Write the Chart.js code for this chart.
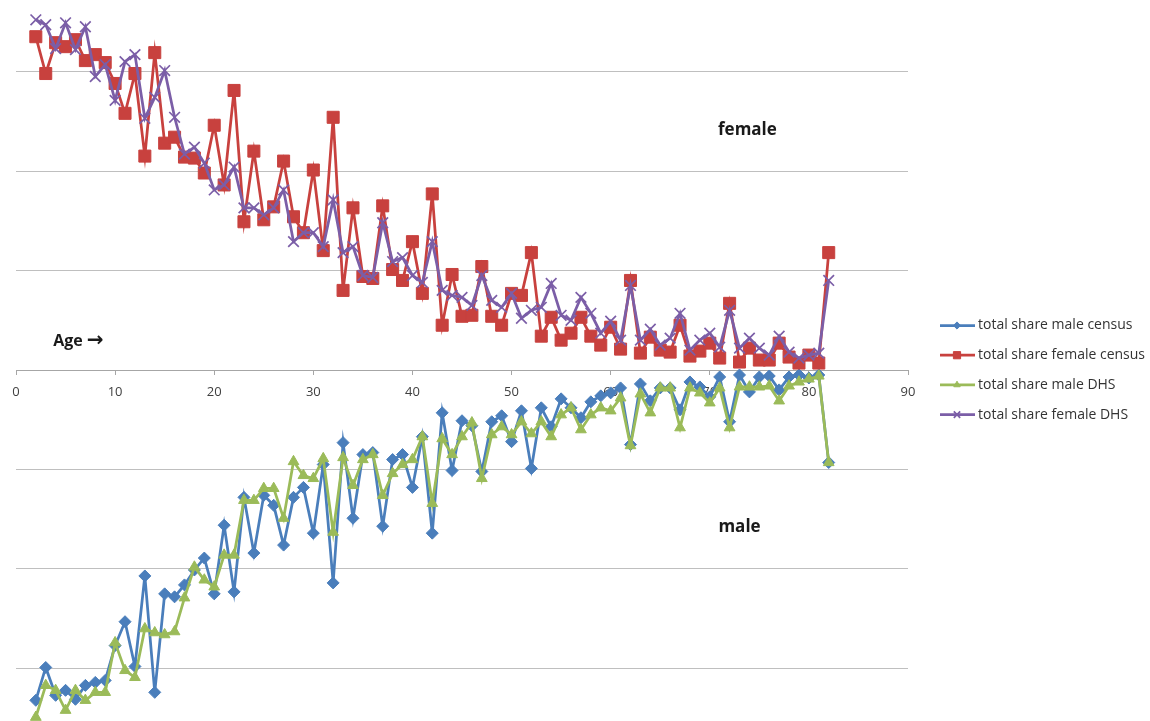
<!DOCTYPE html>
<html>
<head>
<meta charset="utf-8">
<title>Age structure: census vs DHS</title>
<script src="https://cdn.jsdelivr.net/npm/chart.js@4.4.1/dist/chart.umd.min.js"></script>
<style>
  html, body { margin: 0; padding: 0; background: #fff; }
  #wrap { width: 1150px; height: 721px; position: relative; }
</style>
</head>
<body>
<div id="wrap"><canvas id="ageChart"></canvas></div>
<script>
// ages on the x axis
const ages = [2, 3, 4, 5, 6, 7, 8, 9, 10, 11, 12, 13, 14, 15, 16, 17, 18, 19, 20, 21,
  22, 23, 24, 25, 26, 27, 28, 29, 30, 31, 32, 33, 34, 35, 36, 37, 38, 39, 40, 41,
  42, 43, 44, 45, 46, 47, 48, 49, 50, 51, 52, 53, 54, 55, 56, 57, 58, 59, 60, 61,
  62, 63, 64, 65, 66, 67, 68, 69, 70, 71, 72, 73, 74, 75, 76, 77, 78, 79, 80, 81, 82];

// share of total population (%), males plotted negative
const maleCensus = [-3.32, -2.99, -3.27, -3.22, -3.31, -3.17, -3.14, -3.12, -2.77, -2.53,
  -2.98, -2.07, -3.24, -2.25, -2.28, -2.16, -2.01, -1.89, -2.25, -1.56,
  -2.23, -1.28, -1.84, -1.26, -1.36, -1.76, -1.28, -1.18, -1.64, -0.95,
  -2.14, -0.73, -1.49, -0.85, -0.83, -1.57, -0.90, -0.85, -1.18, -0.67,
  -1.64, -0.43, -1.01, -0.51, -0.56, -1.02, -0.52, -0.46, -0.72, -0.41,
  -0.99, -0.38, -0.57, -0.29, -0.38, -0.48, -0.32, -0.26, -0.23, -0.18,
  -0.75, -0.14, -0.31, -0.18, -0.18, -0.40, -0.12, -0.17, -0.27, -0.07,
  -0.52, -0.05, -0.22, -0.07, -0.06, -0.20, -0.07, -0.05, -0.08, -0.05, -0.93];

const femaleCensus = [3.35, 2.98, 3.29, 3.25, 3.32, 3.11, 3.17, 3.09, 2.88, 2.58,
  2.98, 2.15, 3.19, 2.28, 2.34, 2.14, 2.13, 1.98, 2.46, 1.86,
  2.81, 1.49, 2.20, 1.51, 1.64, 2.10, 1.54, 1.38, 2.01, 1.20,
  2.54, 0.80, 1.63, 0.94, 0.92, 1.65, 1.01, 0.90, 1.29, 0.77,
  1.77, 0.45, 0.96, 0.54, 0.55, 1.04, 0.54, 0.45, 0.77, 0.75,
  1.18, 0.34, 0.53, 0.30, 0.37, 0.53, 0.34, 0.25, 0.43, 0.21,
  0.90, 0.17, 0.33, 0.20, 0.18, 0.45, 0.14, 0.19, 0.27, 0.12,
  0.67, 0.08, 0.22, 0.10, 0.10, 0.27, 0.13, 0.07, 0.15, 0.07, 1.18];

const maleDHS = [-3.49, -3.17, -3.22, -3.42, -3.22, -3.32, -3.24, -3.24, -2.74, -3.02,
  -3.09, -2.60, -2.64, -2.66, -2.63, -2.29, -1.98, -2.11, -2.18, -1.86,
  -1.86, -1.31, -1.31, -1.19, -1.19, -1.49, -0.92, -1.06, -1.09, -0.89,
  -1.63, -0.88, -1.16, -0.90, -0.85, -1.26, -1.04, -0.95, -0.90, -0.67,
  -1.34, -0.69, -0.85, -0.67, -0.53, -1.09, -0.65, -0.57, -0.65, -0.52,
  -0.64, -0.52, -0.67, -0.45, -0.38, -0.60, -0.45, -0.38, -0.41, -0.28,
  -0.76, -0.24, -0.43, -0.18, -0.18, -0.58, -0.18, -0.23, -0.33, -0.18,
  -0.58, -0.17, -0.17, -0.17, -0.16, -0.31, -0.16, -0.12, -0.09, -0.06, -0.93];

const femaleDHS = [3.52, 3.47, 3.23, 3.49, 3.22, 3.45, 2.95, 3.07, 2.71, 3.10,
  3.17, 2.53, 2.74, 3.01, 2.54, 2.17, 2.24, 2.08, 1.81, 1.86,
  2.04, 1.63, 1.63, 1.56, 1.63, 1.81, 1.29, 1.38, 1.38, 1.24,
  1.71, 1.18, 1.24, 0.95, 0.93, 1.48, 1.09, 1.13, 0.95, 0.88,
  1.29, 0.80, 0.75, 0.73, 0.65, 0.95, 0.70, 0.63, 0.77, 0.52,
  0.60, 0.63, 0.87, 0.55, 0.50, 0.73, 0.57, 0.37, 0.49, 0.30,
  0.85, 0.30, 0.41, 0.25, 0.32, 0.57, 0.20, 0.30, 0.37, 0.23,
  0.60, 0.22, 0.32, 0.22, 0.15, 0.34, 0.18, 0.12, 0.15, 0.17, 0.90];

const xTicks = [0, 10, 20, 30, 40, 50, 60, 70, 80, 90];
const yGrid = [-3, -2, -1, 0, 1, 2, 3];

const BLUE = '#4a7ebb', RED = '#c8413e', GREEN = '#9bbb59', PURPLE = '#7b5ea7';

function series(label, values, color, style, radius, order) {
  return {
    label: label,
    data: ages.map((a, i) => ({ x: a, y: values[i] })),
    borderColor: color,
    backgroundColor: color,
    borderWidth: 2.75,
    pointStyle: style,
    pointRadius: radius,
    pointBackgroundColor: color,
    pointBorderColor: color,
    pointBorderWidth: style === 'crossRot' ? 1.7 : 1,
    tension: 0,
    order: order
  };
}

const datasets = [
  series('total share male census', maleCensus, BLUE, 'rectRot', 6, 4),
  series('total share female census', femaleCensus, RED, 'rect', 8.5, 3),
  series('total share male DHS', maleDHS, GREEN, 'triangle', 6.2, 2),
  series('total share female DHS', femaleDHS, PURPLE, 'crossRot', 7.5, 1)
];

// text on the plot, placed in data units
const notes = [
  { text: 'female', x: 73.8, y: 2.41 },
  { text: 'male', x: 73.0, y: -1.58 }
];
const ageNote = { x: 3.75, y: 0.29 };

const extras = {
  id: 'extras',
  afterDraw(chart) {
    const ctx = chart.ctx;
    const xs = chart.scales.x, ys = chart.scales.y;
    ctx.save();
    ctx.fillStyle = '#1a1a1a';
    ctx.font = 'bold 17px "Open Sans"';
    ctx.textBaseline = 'middle';
    ctx.textAlign = 'center';
    notes.forEach(n => {
      ctx.fillText(n.text, xs.getPixelForValue(n.x), ys.getPixelForValue(n.y));
    });

    // "Age" with a heavy arrow after it
    ctx.textAlign = 'left';
    const ax = xs.getPixelForValue(ageNote.x), ay = ys.getPixelForValue(ageNote.y);
    ctx.font = 'bold 16px "Open Sans"';
    ctx.fillText('Age', ax, ay);
    const w = ctx.measureText('Age ').width;
    ctx.font = 'bold 20px "DejaVu Sans"';
    ctx.fillText('\u2192', ax + w, ay);

    // legend on the right, line with marker like Excel
    const left = chart.chartArea.right + 32;
    let y = 325.5;
    ctx.font = '14px "Open Sans"';
    datasets.forEach(ds => {
      ctx.strokeStyle = ds.borderColor;
      ctx.lineWidth = 2.75;
      ctx.beginPath();
      ctx.moveTo(left, y);
      ctx.lineTo(left + 35, y);
      ctx.stroke();
      ctx.fillStyle = ds.borderColor;
      ctx.lineWidth = ds.pointBorderWidth;
      Chart.helpers.drawPoint(ctx, {
        pointStyle: ds.pointStyle,
        radius: ds.pointRadius * 0.6,
        rotation: 0,
        borderWidth: ds.pointBorderWidth
      }, left + 17, y);
      ctx.fillStyle = '#333';
      ctx.fillText(ds.label, left + 38, y);
      y += 29.7;
    });
    ctx.restore();
  }
};

new Chart(document.getElementById('ageChart'), {
  type: 'line',
  data: { datasets: datasets },
  options: {
    responsive: true,
    maintainAspectRatio: false,
    animation: false,
    layout: { autoPadding: false, padding: { left: 16, right: 242, top: 0, bottom: 0 } },
    plugins: {
      legend: { display: false },
      tooltip: { enabled: false }
    },
    scales: {
      x: {
        type: 'linear',
        position: { y: 0 },
        min: 0,
        max: 90,
        afterFit: s => { s.height = 0; },
        afterBuildTicks: s => { s.ticks = xTicks.map(v => ({ value: v })); },
        grid: { display: true, drawOnChartArea: false, drawTicks: true, tickLength: 4, color: '#a6a6a6' },
        border: { display: true, color: '#a6a6a6', width: 1 },
        ticks: {
          padding: 10,
          color: '#404040',
          font: { family: '"Open Sans"', size: 13 },
          maxRotation: 0
        }
      },
      y: {
        min: -3.528,
        max: 3.719,
        afterFit: s => { s.width = 0; },
        afterBuildTicks: s => { s.ticks = yGrid.map(v => ({ value: v })); },
        grid: { color: '#bfbfbf', lineWidth: 1, drawTicks: false },
        border: { display: false },
        ticks: { display: false }
      }
    }
  },
  plugins: [extras]
});
</script>
</body>
</html>
